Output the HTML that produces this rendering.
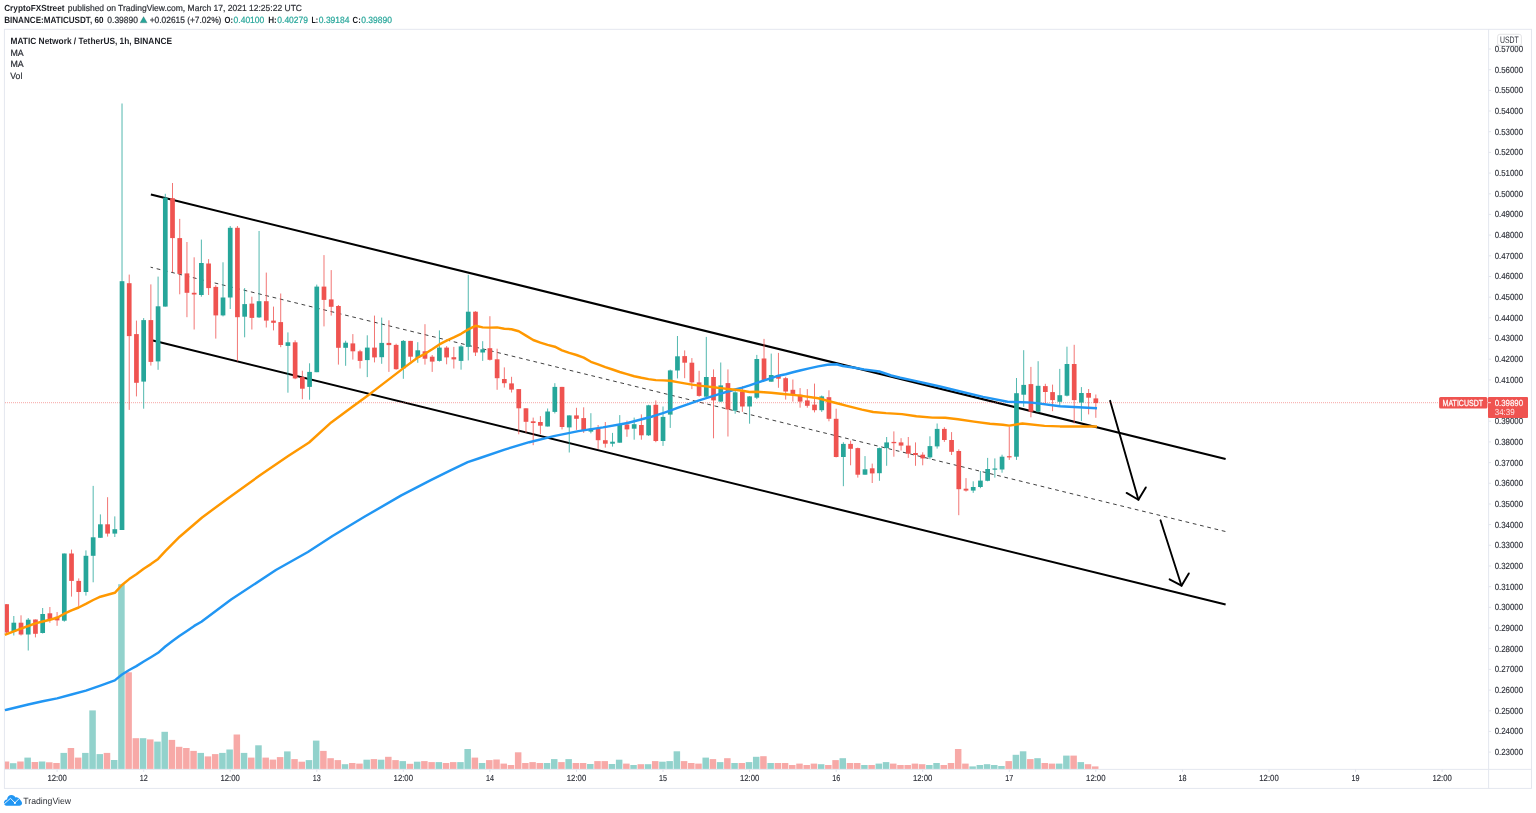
<!DOCTYPE html>
<html lang="en"><head><meta charset="utf-8"><title>MATICUSDT chart</title>
<style>html,body{margin:0;padding:0;background:#fff;}body{width:1536px;height:813px;overflow:hidden;font-family:"Liberation Sans",sans-serif;}svg{display:block;}text{font-family:"Liberation Sans",sans-serif;text-rendering:geometricPrecision;}</style>
</head><body>
<svg width="1536" height="813" viewBox="0 0 1536 813">
<rect width="1536" height="813" fill="#ffffff"/>
<g fill="none" stroke="#e3e6ee" stroke-width="0.95">
<rect x="4.4" y="29.3" width="1527.1" height="759.1"/>
<line x1="1488.6" y1="29.3" x2="1488.6" y2="788.4"/>
<line x1="4.4" y1="769.4" x2="1531.5" y2="769.4"/>
</g>
<g id="volume">
<rect x="4.90" y="761.5" width="4.35" height="7.4" fill="#f7a9a7"/>
<rect x="9.96" y="763.2" width="6.50" height="5.7" fill="#92d2cc"/>
<rect x="17.18" y="761.5" width="6.50" height="7.4" fill="#f7a9a7"/>
<rect x="24.39" y="757.6" width="6.50" height="11.3" fill="#92d2cc"/>
<rect x="31.60" y="762.0" width="6.50" height="6.9" fill="#f7a9a7"/>
<rect x="38.82" y="761.5" width="6.50" height="7.4" fill="#92d2cc"/>
<rect x="46.03" y="762.3" width="6.50" height="6.6" fill="#f7a9a7"/>
<rect x="53.24" y="763.0" width="6.50" height="5.9" fill="#f7a9a7"/>
<rect x="60.46" y="752.9" width="6.50" height="16.0" fill="#92d2cc"/>
<rect x="67.67" y="748.0" width="6.50" height="20.9" fill="#f7a9a7"/>
<rect x="74.88" y="757.6" width="6.50" height="11.3" fill="#f7a9a7"/>
<rect x="82.10" y="752.9" width="6.50" height="16.0" fill="#92d2cc"/>
<rect x="89.31" y="710.4" width="6.50" height="58.5" fill="#92d2cc"/>
<rect x="96.53" y="754.1" width="6.50" height="14.8" fill="#92d2cc"/>
<rect x="103.74" y="752.9" width="6.50" height="16.0" fill="#f7a9a7"/>
<rect x="110.95" y="760.0" width="6.50" height="8.9" fill="#92d2cc"/>
<rect x="118.17" y="584.2" width="6.50" height="184.7" fill="#92d2cc"/>
<rect x="125.38" y="672.3" width="6.50" height="96.6" fill="#f7a9a7"/>
<rect x="132.59" y="738.2" width="6.50" height="30.7" fill="#f7a9a7"/>
<rect x="139.81" y="738.2" width="6.50" height="30.7" fill="#92d2cc"/>
<rect x="147.02" y="739.4" width="6.50" height="29.5" fill="#f7a9a7"/>
<rect x="154.23" y="741.6" width="6.50" height="27.3" fill="#92d2cc"/>
<rect x="161.45" y="731.8" width="6.50" height="37.1" fill="#92d2cc"/>
<rect x="168.66" y="739.9" width="6.50" height="29.0" fill="#f7a9a7"/>
<rect x="175.87" y="746.8" width="6.50" height="22.1" fill="#f7a9a7"/>
<rect x="183.09" y="748.0" width="6.50" height="20.9" fill="#f7a9a7"/>
<rect x="190.30" y="750.9" width="6.50" height="18.0" fill="#f7a9a7"/>
<rect x="197.51" y="752.9" width="6.50" height="16.0" fill="#92d2cc"/>
<rect x="204.73" y="756.4" width="6.50" height="12.5" fill="#f7a9a7"/>
<rect x="211.94" y="754.1" width="6.50" height="14.8" fill="#f7a9a7"/>
<rect x="219.16" y="752.9" width="6.50" height="16.0" fill="#92d2cc"/>
<rect x="226.37" y="749.5" width="6.50" height="19.4" fill="#92d2cc"/>
<rect x="233.58" y="734.5" width="6.50" height="34.4" fill="#f7a9a7"/>
<rect x="240.80" y="752.9" width="6.50" height="16.0" fill="#92d2cc"/>
<rect x="248.01" y="757.6" width="6.50" height="11.3" fill="#f7a9a7"/>
<rect x="255.22" y="745.3" width="6.50" height="23.6" fill="#92d2cc"/>
<rect x="262.44" y="757.6" width="6.50" height="11.3" fill="#f7a9a7"/>
<rect x="269.65" y="759.6" width="6.50" height="9.3" fill="#f7a9a7"/>
<rect x="276.86" y="757.1" width="6.50" height="11.8" fill="#f7a9a7"/>
<rect x="284.08" y="751.4" width="6.50" height="17.5" fill="#92d2cc"/>
<rect x="291.29" y="759.1" width="6.50" height="9.8" fill="#f7a9a7"/>
<rect x="298.50" y="761.7" width="6.50" height="7.2" fill="#f7a9a7"/>
<rect x="305.72" y="760.1" width="6.50" height="8.8" fill="#92d2cc"/>
<rect x="312.93" y="740.6" width="6.50" height="28.3" fill="#92d2cc"/>
<rect x="320.14" y="750.9" width="6.50" height="18.0" fill="#f7a9a7"/>
<rect x="327.36" y="758.2" width="6.50" height="10.7" fill="#f7a9a7"/>
<rect x="334.57" y="760.1" width="6.50" height="8.8" fill="#f7a9a7"/>
<rect x="341.78" y="764.2" width="6.50" height="4.7" fill="#92d2cc"/>
<rect x="349.00" y="763.0" width="6.50" height="5.9" fill="#f7a9a7"/>
<rect x="356.21" y="763.6" width="6.50" height="5.3" fill="#f7a9a7"/>
<rect x="363.43" y="759.7" width="6.50" height="9.2" fill="#92d2cc"/>
<rect x="370.64" y="759.1" width="6.50" height="9.8" fill="#f7a9a7"/>
<rect x="377.85" y="759.7" width="6.50" height="9.2" fill="#92d2cc"/>
<rect x="385.07" y="756.8" width="6.50" height="12.1" fill="#f7a9a7"/>
<rect x="392.28" y="760.1" width="6.50" height="8.8" fill="#f7a9a7"/>
<rect x="399.49" y="761.1" width="6.50" height="7.8" fill="#92d2cc"/>
<rect x="406.71" y="763.8" width="6.50" height="5.1" fill="#f7a9a7"/>
<rect x="413.92" y="761.7" width="6.50" height="7.2" fill="#92d2cc"/>
<rect x="421.13" y="761.1" width="6.50" height="7.8" fill="#f7a9a7"/>
<rect x="428.35" y="762.1" width="6.50" height="6.8" fill="#f7a9a7"/>
<rect x="435.56" y="762.1" width="6.50" height="6.8" fill="#92d2cc"/>
<rect x="442.77" y="763.0" width="6.50" height="5.9" fill="#f7a9a7"/>
<rect x="449.99" y="762.1" width="6.50" height="6.8" fill="#f7a9a7"/>
<rect x="457.20" y="762.1" width="6.50" height="6.8" fill="#92d2cc"/>
<rect x="464.41" y="749.0" width="6.50" height="19.9" fill="#92d2cc"/>
<rect x="471.63" y="757.6" width="6.50" height="11.3" fill="#f7a9a7"/>
<rect x="478.84" y="763.0" width="6.50" height="5.9" fill="#92d2cc"/>
<rect x="486.05" y="760.1" width="6.50" height="8.8" fill="#f7a9a7"/>
<rect x="493.27" y="759.5" width="6.50" height="9.4" fill="#f7a9a7"/>
<rect x="500.48" y="763.6" width="6.50" height="5.3" fill="#f7a9a7"/>
<rect x="507.69" y="765.0" width="6.50" height="3.9" fill="#f7a9a7"/>
<rect x="514.91" y="752.3" width="6.50" height="16.6" fill="#f7a9a7"/>
<rect x="522.12" y="763.0" width="6.50" height="5.9" fill="#f7a9a7"/>
<rect x="529.34" y="762.1" width="6.50" height="6.8" fill="#f7a9a7"/>
<rect x="536.55" y="763.0" width="6.50" height="5.9" fill="#f7a9a7"/>
<rect x="543.76" y="763.0" width="6.50" height="5.9" fill="#92d2cc"/>
<rect x="550.98" y="759.1" width="6.50" height="9.8" fill="#92d2cc"/>
<rect x="558.19" y="762.1" width="6.50" height="6.8" fill="#f7a9a7"/>
<rect x="565.40" y="759.1" width="6.50" height="9.8" fill="#92d2cc"/>
<rect x="572.62" y="763.0" width="6.50" height="5.9" fill="#f7a9a7"/>
<rect x="579.83" y="763.0" width="6.50" height="5.9" fill="#f7a9a7"/>
<rect x="587.04" y="764.0" width="6.50" height="4.9" fill="#92d2cc"/>
<rect x="594.26" y="761.1" width="6.50" height="7.8" fill="#f7a9a7"/>
<rect x="601.47" y="761.1" width="6.50" height="7.8" fill="#f7a9a7"/>
<rect x="608.68" y="764.0" width="6.50" height="4.9" fill="#92d2cc"/>
<rect x="615.90" y="759.7" width="6.50" height="9.2" fill="#92d2cc"/>
<rect x="623.11" y="763.6" width="6.50" height="5.3" fill="#f7a9a7"/>
<rect x="630.32" y="765.0" width="6.50" height="3.9" fill="#92d2cc"/>
<rect x="637.54" y="764.2" width="6.50" height="4.7" fill="#f7a9a7"/>
<rect x="644.75" y="764.2" width="6.50" height="4.7" fill="#92d2cc"/>
<rect x="651.97" y="761.1" width="6.50" height="7.8" fill="#f7a9a7"/>
<rect x="659.18" y="761.7" width="6.50" height="7.2" fill="#92d2cc"/>
<rect x="666.39" y="761.1" width="6.50" height="7.8" fill="#92d2cc"/>
<rect x="673.61" y="751.3" width="6.50" height="17.6" fill="#92d2cc"/>
<rect x="680.82" y="761.1" width="6.50" height="7.8" fill="#f7a9a7"/>
<rect x="688.03" y="763.0" width="6.50" height="5.9" fill="#f7a9a7"/>
<rect x="695.25" y="763.6" width="6.50" height="5.3" fill="#f7a9a7"/>
<rect x="702.46" y="757.6" width="6.50" height="11.3" fill="#92d2cc"/>
<rect x="709.67" y="759.1" width="6.50" height="9.8" fill="#f7a9a7"/>
<rect x="716.89" y="762.1" width="6.50" height="6.8" fill="#92d2cc"/>
<rect x="724.10" y="758.2" width="6.50" height="10.7" fill="#f7a9a7"/>
<rect x="731.31" y="763.0" width="6.50" height="5.9" fill="#92d2cc"/>
<rect x="738.53" y="763.0" width="6.50" height="5.9" fill="#f7a9a7"/>
<rect x="745.74" y="762.1" width="6.50" height="6.8" fill="#92d2cc"/>
<rect x="752.95" y="756.8" width="6.50" height="12.1" fill="#92d2cc"/>
<rect x="760.17" y="756.2" width="6.50" height="12.7" fill="#f7a9a7"/>
<rect x="767.38" y="763.0" width="6.50" height="5.9" fill="#92d2cc"/>
<rect x="774.59" y="763.0" width="6.50" height="5.9" fill="#f7a9a7"/>
<rect x="781.81" y="763.0" width="6.50" height="5.9" fill="#f7a9a7"/>
<rect x="789.02" y="765.0" width="6.50" height="3.9" fill="#f7a9a7"/>
<rect x="796.24" y="763.6" width="6.50" height="5.3" fill="#f7a9a7"/>
<rect x="803.45" y="765.0" width="6.50" height="3.9" fill="#f7a9a7"/>
<rect x="810.66" y="763.6" width="6.50" height="5.3" fill="#f7a9a7"/>
<rect x="817.88" y="764.2" width="6.50" height="4.7" fill="#92d2cc"/>
<rect x="825.09" y="765.0" width="6.50" height="3.9" fill="#f7a9a7"/>
<rect x="832.30" y="760.1" width="6.50" height="8.8" fill="#f7a9a7"/>
<rect x="839.52" y="758.2" width="6.50" height="10.7" fill="#92d2cc"/>
<rect x="846.73" y="763.0" width="6.50" height="5.9" fill="#f7a9a7"/>
<rect x="853.94" y="763.0" width="6.50" height="5.9" fill="#f7a9a7"/>
<rect x="861.16" y="765.0" width="6.50" height="3.9" fill="#92d2cc"/>
<rect x="868.37" y="765.0" width="6.50" height="3.9" fill="#f7a9a7"/>
<rect x="875.58" y="763.6" width="6.50" height="5.3" fill="#92d2cc"/>
<rect x="882.80" y="762.1" width="6.50" height="6.8" fill="#92d2cc"/>
<rect x="890.01" y="763.6" width="6.50" height="5.3" fill="#f7a9a7"/>
<rect x="897.22" y="765.0" width="6.50" height="3.9" fill="#f7a9a7"/>
<rect x="904.44" y="765.0" width="6.50" height="3.9" fill="#f7a9a7"/>
<rect x="911.65" y="763.6" width="6.50" height="5.3" fill="#f7a9a7"/>
<rect x="918.86" y="764.2" width="6.50" height="4.7" fill="#f7a9a7"/>
<rect x="926.08" y="765.0" width="6.50" height="3.9" fill="#92d2cc"/>
<rect x="933.29" y="763.0" width="6.50" height="5.9" fill="#92d2cc"/>
<rect x="940.50" y="765.0" width="6.50" height="3.9" fill="#f7a9a7"/>
<rect x="947.72" y="763.0" width="6.50" height="5.9" fill="#f7a9a7"/>
<rect x="954.93" y="749.0" width="6.50" height="19.9" fill="#f7a9a7"/>
<rect x="962.15" y="763.6" width="6.50" height="5.3" fill="#f7a9a7"/>
<rect x="969.36" y="766.4" width="6.50" height="2.5" fill="#92d2cc"/>
<rect x="976.57" y="765.0" width="6.50" height="3.9" fill="#92d2cc"/>
<rect x="983.79" y="764.2" width="6.50" height="4.7" fill="#92d2cc"/>
<rect x="991.00" y="765.0" width="6.50" height="3.9" fill="#92d2cc"/>
<rect x="998.21" y="766.0" width="6.50" height="2.9" fill="#92d2cc"/>
<rect x="1005.43" y="761.1" width="6.50" height="7.8" fill="#f7a9a7"/>
<rect x="1012.64" y="754.8" width="6.50" height="14.1" fill="#92d2cc"/>
<rect x="1019.85" y="751.3" width="6.50" height="17.6" fill="#92d2cc"/>
<rect x="1027.07" y="759.1" width="6.50" height="9.8" fill="#f7a9a7"/>
<rect x="1034.28" y="758.2" width="6.50" height="10.7" fill="#92d2cc"/>
<rect x="1041.49" y="763.0" width="6.50" height="5.9" fill="#f7a9a7"/>
<rect x="1048.71" y="763.6" width="6.50" height="5.3" fill="#f7a9a7"/>
<rect x="1055.92" y="763.6" width="6.50" height="5.3" fill="#92d2cc"/>
<rect x="1063.13" y="755.6" width="6.50" height="13.3" fill="#92d2cc"/>
<rect x="1070.35" y="755.6" width="6.50" height="13.3" fill="#f7a9a7"/>
<rect x="1077.56" y="762.1" width="6.50" height="6.8" fill="#92d2cc"/>
<rect x="1084.77" y="764.2" width="6.50" height="4.7" fill="#f7a9a7"/>
<rect x="1091.99" y="766.4" width="6.50" height="2.5" fill="#f7a9a7"/>
</g>
<g stroke="#000" fill="none">
<line x1="150.9" y1="194.6" x2="1225.6" y2="458.9" stroke-width="2.08"/>
<line x1="152.9" y1="340.6" x2="1225.6" y2="604.6" stroke-width="2.08"/>
<line x1="150.6" y1="267.2" x2="1225.4" y2="531.5" stroke="#404040" stroke-width="1.0" stroke-dasharray="3.73 3.7315" stroke-dashoffset="1.22"/>
<g stroke-width="1.9" stroke-linecap="round" stroke-linejoin="round">
<path d="M1110.1,400.8 L1138.4,499.7"/>
<path d="M1126.6,492.9 L1138.4,499.7 L1145.8,487.4"/>
<path d="M1160.5,520.3 L1181.5,585.7"/>
<path d="M1169.6,579.3 L1181.5,585.7 L1188.8,573.4"/>
</g></g>
<line x1="5" y1="402.7" x2="1488.6" y2="402.7" stroke="#ef5350" stroke-opacity="0.58" stroke-width="0.9" stroke-dasharray="1 1"/>
<g id="candles">
<line x1="6.60" y1="604.2" x2="6.60" y2="634.0" stroke="#ef5350" stroke-width="0.8"/>
<rect x="4.90" y="604.2" width="4.05" height="28.3" fill="#ef5350"/>
<line x1="13.81" y1="616.0" x2="13.81" y2="635.5" stroke="#26a69a" stroke-width="0.8"/>
<rect x="11.46" y="622.7" width="4.70" height="9.3" fill="#26a69a"/>
<line x1="21.03" y1="615.3" x2="21.03" y2="635.5" stroke="#ef5350" stroke-width="0.8"/>
<rect x="18.68" y="622.7" width="4.70" height="11.8" fill="#ef5350"/>
<line x1="28.24" y1="618.0" x2="28.24" y2="650.5" stroke="#26a69a" stroke-width="0.8"/>
<rect x="25.89" y="619.7" width="4.70" height="14.8" fill="#26a69a"/>
<line x1="35.45" y1="619.5" x2="35.45" y2="637.4" stroke="#ef5350" stroke-width="0.8"/>
<rect x="33.10" y="619.5" width="4.70" height="14.3" fill="#ef5350"/>
<line x1="42.67" y1="608.0" x2="42.67" y2="633.5" stroke="#26a69a" stroke-width="0.8"/>
<rect x="40.32" y="614.0" width="4.70" height="19.0" fill="#26a69a"/>
<line x1="49.88" y1="607.0" x2="49.88" y2="622.7" stroke="#ef5350" stroke-width="0.8"/>
<rect x="47.53" y="613.3" width="4.70" height="5.7" fill="#ef5350"/>
<line x1="57.09" y1="612.0" x2="57.09" y2="625.8" stroke="#ef5350" stroke-width="0.8"/>
<rect x="54.74" y="616.8" width="4.70" height="3.6" fill="#ef5350"/>
<line x1="64.31" y1="553.5" x2="64.31" y2="621.7" stroke="#26a69a" stroke-width="0.8"/>
<rect x="61.96" y="553.5" width="4.70" height="67.2" fill="#26a69a"/>
<line x1="71.52" y1="549.6" x2="71.52" y2="596.6" stroke="#ef5350" stroke-width="0.8"/>
<rect x="69.17" y="553.5" width="4.70" height="27.4" fill="#ef5350"/>
<line x1="78.73" y1="578.4" x2="78.73" y2="606.7" stroke="#ef5350" stroke-width="0.8"/>
<rect x="76.38" y="580.9" width="4.70" height="11.1" fill="#ef5350"/>
<line x1="85.95" y1="550.4" x2="85.95" y2="595.6" stroke="#26a69a" stroke-width="0.8"/>
<rect x="83.60" y="555.8" width="4.70" height="36.2" fill="#26a69a"/>
<line x1="93.16" y1="485.9" x2="93.16" y2="582.3" stroke="#26a69a" stroke-width="0.8"/>
<rect x="90.81" y="537.3" width="4.70" height="18.5" fill="#26a69a"/>
<line x1="100.38" y1="514.4" x2="100.38" y2="537.8" stroke="#26a69a" stroke-width="0.8"/>
<rect x="98.03" y="524.3" width="4.70" height="13.5" fill="#26a69a"/>
<line x1="107.59" y1="497.2" x2="107.59" y2="536.6" stroke="#ef5350" stroke-width="0.8"/>
<rect x="105.24" y="524.3" width="4.70" height="9.3" fill="#ef5350"/>
<line x1="114.80" y1="516.4" x2="114.80" y2="537.0" stroke="#26a69a" stroke-width="0.8"/>
<rect x="112.45" y="529.2" width="4.70" height="4.4" fill="#26a69a"/>
<line x1="122.02" y1="103.5" x2="122.02" y2="530.0" stroke="#26a69a" stroke-width="0.8"/>
<rect x="119.67" y="281.2" width="4.70" height="248.8" fill="#26a69a"/>
<line x1="129.23" y1="274.6" x2="129.23" y2="409.9" stroke="#ef5350" stroke-width="0.8"/>
<rect x="126.88" y="283.2" width="4.70" height="52.9" fill="#ef5350"/>
<line x1="136.44" y1="320.6" x2="136.44" y2="396.4" stroke="#ef5350" stroke-width="0.8"/>
<rect x="134.09" y="334.1" width="4.70" height="48.7" fill="#ef5350"/>
<line x1="143.66" y1="318.1" x2="143.66" y2="408.7" stroke="#26a69a" stroke-width="0.8"/>
<rect x="141.31" y="320.1" width="4.70" height="61.5" fill="#26a69a"/>
<line x1="150.87" y1="284.4" x2="150.87" y2="365.6" stroke="#ef5350" stroke-width="0.8"/>
<rect x="148.52" y="320.1" width="4.70" height="41.8" fill="#ef5350"/>
<line x1="158.08" y1="276.6" x2="158.08" y2="369.8" stroke="#26a69a" stroke-width="0.8"/>
<rect x="155.73" y="306.3" width="4.70" height="55.1" fill="#26a69a"/>
<line x1="165.30" y1="193.8" x2="165.30" y2="306.6" stroke="#26a69a" stroke-width="0.8"/>
<rect x="162.95" y="197.7" width="4.70" height="108.9" fill="#26a69a"/>
<line x1="172.51" y1="183.0" x2="172.51" y2="272.1" stroke="#ef5350" stroke-width="0.8"/>
<rect x="170.16" y="198.2" width="4.70" height="39.9" fill="#ef5350"/>
<line x1="179.72" y1="218.9" x2="179.72" y2="294.3" stroke="#ef5350" stroke-width="0.8"/>
<rect x="177.37" y="238.1" width="4.70" height="35.8" fill="#ef5350"/>
<line x1="186.94" y1="242.0" x2="186.94" y2="317.2" stroke="#ef5350" stroke-width="0.8"/>
<rect x="184.59" y="273.4" width="4.70" height="19.4" fill="#ef5350"/>
<line x1="194.15" y1="257.3" x2="194.15" y2="329.5" stroke="#ef5350" stroke-width="0.8"/>
<rect x="191.80" y="292.8" width="4.70" height="1.7" fill="#ef5350"/>
<line x1="201.36" y1="239.6" x2="201.36" y2="296.7" stroke="#26a69a" stroke-width="0.8"/>
<rect x="199.01" y="263.0" width="4.70" height="32.0" fill="#26a69a"/>
<line x1="208.58" y1="259.1" x2="208.58" y2="295.0" stroke="#ef5350" stroke-width="0.8"/>
<rect x="206.23" y="263.5" width="4.70" height="24.6" fill="#ef5350"/>
<line x1="215.79" y1="285.2" x2="215.79" y2="338.6" stroke="#ef5350" stroke-width="0.8"/>
<rect x="213.44" y="286.9" width="4.70" height="28.5" fill="#ef5350"/>
<line x1="223.00" y1="262.3" x2="223.00" y2="316.4" stroke="#26a69a" stroke-width="0.8"/>
<rect x="220.66" y="297.5" width="4.70" height="17.9" fill="#26a69a"/>
<line x1="230.22" y1="226.0" x2="230.22" y2="309.0" stroke="#26a69a" stroke-width="0.8"/>
<rect x="227.87" y="227.8" width="4.70" height="69.7" fill="#26a69a"/>
<line x1="237.43" y1="226.0" x2="237.43" y2="361.4" stroke="#ef5350" stroke-width="0.8"/>
<rect x="235.08" y="227.8" width="4.70" height="89.4" fill="#ef5350"/>
<line x1="244.65" y1="288.1" x2="244.65" y2="337.3" stroke="#26a69a" stroke-width="0.8"/>
<rect x="242.30" y="304.1" width="4.70" height="12.6" fill="#26a69a"/>
<line x1="251.86" y1="296.7" x2="251.86" y2="329.5" stroke="#ef5350" stroke-width="0.8"/>
<rect x="249.51" y="303.6" width="4.70" height="14.3" fill="#ef5350"/>
<line x1="259.07" y1="231.0" x2="259.07" y2="317.9" stroke="#26a69a" stroke-width="0.8"/>
<rect x="256.72" y="301.2" width="4.70" height="16.2" fill="#26a69a"/>
<line x1="266.29" y1="272.6" x2="266.29" y2="327.5" stroke="#ef5350" stroke-width="0.8"/>
<rect x="263.94" y="301.2" width="4.70" height="19.4" fill="#ef5350"/>
<line x1="273.50" y1="306.6" x2="273.50" y2="330.4" stroke="#ef5350" stroke-width="0.8"/>
<rect x="271.15" y="320.6" width="4.70" height="2.2" fill="#ef5350"/>
<line x1="280.71" y1="293.5" x2="280.71" y2="347.2" stroke="#ef5350" stroke-width="0.8"/>
<rect x="278.36" y="322.1" width="4.70" height="22.9" fill="#ef5350"/>
<line x1="287.93" y1="332.4" x2="287.93" y2="392.7" stroke="#26a69a" stroke-width="0.8"/>
<rect x="285.58" y="342.3" width="4.70" height="3.6" fill="#26a69a"/>
<line x1="295.14" y1="340.3" x2="295.14" y2="379.2" stroke="#ef5350" stroke-width="0.8"/>
<rect x="292.79" y="342.3" width="4.70" height="36.1" fill="#ef5350"/>
<line x1="302.35" y1="370.7" x2="302.35" y2="399.2" stroke="#ef5350" stroke-width="0.8"/>
<rect x="300.00" y="377.1" width="4.70" height="11.6" fill="#ef5350"/>
<line x1="309.57" y1="363.3" x2="309.57" y2="399.7" stroke="#26a69a" stroke-width="0.8"/>
<rect x="307.22" y="371.9" width="4.70" height="15.0" fill="#26a69a"/>
<line x1="316.78" y1="284.6" x2="316.78" y2="372.2" stroke="#26a69a" stroke-width="0.8"/>
<rect x="314.43" y="286.6" width="4.70" height="85.6" fill="#26a69a"/>
<line x1="323.99" y1="255.1" x2="323.99" y2="326.4" stroke="#ef5350" stroke-width="0.8"/>
<rect x="321.64" y="286.6" width="4.70" height="13.3" fill="#ef5350"/>
<line x1="331.21" y1="270.1" x2="331.21" y2="315.6" stroke="#ef5350" stroke-width="0.8"/>
<rect x="328.86" y="299.4" width="4.70" height="7.4" fill="#ef5350"/>
<line x1="338.42" y1="305.0" x2="338.42" y2="364.6" stroke="#ef5350" stroke-width="0.8"/>
<rect x="336.07" y="306.0" width="4.70" height="41.8" fill="#ef5350"/>
<line x1="345.63" y1="340.7" x2="345.63" y2="365.8" stroke="#26a69a" stroke-width="0.8"/>
<rect x="343.28" y="342.7" width="4.70" height="5.1" fill="#26a69a"/>
<line x1="352.85" y1="334.1" x2="352.85" y2="359.6" stroke="#ef5350" stroke-width="0.8"/>
<rect x="350.50" y="343.4" width="4.70" height="7.9" fill="#ef5350"/>
<line x1="360.06" y1="349.8" x2="360.06" y2="368.5" stroke="#ef5350" stroke-width="0.8"/>
<rect x="357.71" y="351.3" width="4.70" height="9.6" fill="#ef5350"/>
<line x1="367.28" y1="335.3" x2="367.28" y2="377.1" stroke="#26a69a" stroke-width="0.8"/>
<rect x="364.93" y="347.6" width="4.70" height="12.5" fill="#26a69a"/>
<line x1="374.49" y1="315.6" x2="374.49" y2="362.4" stroke="#ef5350" stroke-width="0.8"/>
<rect x="372.14" y="347.6" width="4.70" height="9.8" fill="#ef5350"/>
<line x1="381.70" y1="317.6" x2="381.70" y2="363.8" stroke="#26a69a" stroke-width="0.8"/>
<rect x="379.35" y="342.9" width="4.70" height="14.3" fill="#26a69a"/>
<line x1="388.92" y1="320.3" x2="388.92" y2="371.9" stroke="#ef5350" stroke-width="0.8"/>
<rect x="386.57" y="342.9" width="4.70" height="2.2" fill="#ef5350"/>
<line x1="396.13" y1="343.7" x2="396.13" y2="369.7" stroke="#ef5350" stroke-width="0.8"/>
<rect x="393.78" y="344.9" width="4.70" height="24.3" fill="#ef5350"/>
<line x1="403.34" y1="340.0" x2="403.34" y2="378.8" stroke="#26a69a" stroke-width="0.8"/>
<rect x="400.99" y="340.9" width="4.70" height="27.4" fill="#26a69a"/>
<line x1="410.56" y1="340.9" x2="410.56" y2="361.6" stroke="#ef5350" stroke-width="0.8"/>
<rect x="408.21" y="340.9" width="4.70" height="15.8" fill="#ef5350"/>
<line x1="417.77" y1="342.2" x2="417.77" y2="362.8" stroke="#26a69a" stroke-width="0.8"/>
<rect x="415.42" y="350.3" width="4.70" height="7.6" fill="#26a69a"/>
<line x1="424.98" y1="324.2" x2="424.98" y2="364.6" stroke="#ef5350" stroke-width="0.8"/>
<rect x="422.63" y="351.3" width="4.70" height="7.4" fill="#ef5350"/>
<line x1="432.20" y1="355.0" x2="432.20" y2="371.9" stroke="#ef5350" stroke-width="0.8"/>
<rect x="429.85" y="356.7" width="4.70" height="4.9" fill="#ef5350"/>
<line x1="439.41" y1="330.4" x2="439.41" y2="361.6" stroke="#26a69a" stroke-width="0.8"/>
<rect x="437.06" y="347.6" width="4.70" height="13.3" fill="#26a69a"/>
<line x1="446.62" y1="346.1" x2="446.62" y2="364.3" stroke="#ef5350" stroke-width="0.8"/>
<rect x="444.27" y="347.6" width="4.70" height="9.8" fill="#ef5350"/>
<line x1="453.84" y1="346.9" x2="453.84" y2="368.5" stroke="#ef5350" stroke-width="0.8"/>
<rect x="451.49" y="357.2" width="4.70" height="2.2" fill="#ef5350"/>
<line x1="461.05" y1="345.1" x2="461.05" y2="369.7" stroke="#26a69a" stroke-width="0.8"/>
<rect x="458.70" y="346.4" width="4.70" height="14.5" fill="#26a69a"/>
<line x1="468.26" y1="274.8" x2="468.26" y2="360.4" stroke="#26a69a" stroke-width="0.8"/>
<rect x="465.91" y="311.7" width="4.70" height="35.2" fill="#26a69a"/>
<line x1="475.48" y1="311.2" x2="475.48" y2="356.0" stroke="#ef5350" stroke-width="0.8"/>
<rect x="473.13" y="311.7" width="4.70" height="40.8" fill="#ef5350"/>
<line x1="482.69" y1="341.2" x2="482.69" y2="360.9" stroke="#26a69a" stroke-width="0.8"/>
<rect x="480.34" y="349.3" width="4.70" height="3.2" fill="#26a69a"/>
<line x1="489.90" y1="316.2" x2="489.90" y2="360.5" stroke="#ef5350" stroke-width="0.8"/>
<rect x="487.55" y="348.2" width="4.70" height="11.6" fill="#ef5350"/>
<line x1="497.12" y1="348.7" x2="497.12" y2="389.8" stroke="#ef5350" stroke-width="0.8"/>
<rect x="494.77" y="359.3" width="4.70" height="18.9" fill="#ef5350"/>
<line x1="504.33" y1="367.4" x2="504.33" y2="387.6" stroke="#ef5350" stroke-width="0.8"/>
<rect x="501.98" y="379.0" width="4.70" height="4.2" fill="#ef5350"/>
<line x1="511.55" y1="376.8" x2="511.55" y2="392.5" stroke="#ef5350" stroke-width="0.8"/>
<rect x="509.19" y="383.4" width="4.70" height="6.2" fill="#ef5350"/>
<line x1="518.76" y1="389.1" x2="518.76" y2="434.3" stroke="#ef5350" stroke-width="0.8"/>
<rect x="516.41" y="389.1" width="4.70" height="19.2" fill="#ef5350"/>
<line x1="525.97" y1="408.3" x2="525.97" y2="432.9" stroke="#ef5350" stroke-width="0.8"/>
<rect x="523.62" y="408.3" width="4.70" height="13.5" fill="#ef5350"/>
<line x1="533.19" y1="417.6" x2="533.19" y2="445.2" stroke="#ef5350" stroke-width="0.8"/>
<rect x="530.84" y="421.3" width="4.70" height="1.7" fill="#ef5350"/>
<line x1="540.40" y1="416.1" x2="540.40" y2="434.3" stroke="#ef5350" stroke-width="0.8"/>
<rect x="538.05" y="422.0" width="4.70" height="3.7" fill="#ef5350"/>
<line x1="547.61" y1="408.5" x2="547.61" y2="426.5" stroke="#26a69a" stroke-width="0.8"/>
<rect x="545.26" y="411.5" width="4.70" height="15.0" fill="#26a69a"/>
<line x1="554.83" y1="383.2" x2="554.83" y2="413.4" stroke="#26a69a" stroke-width="0.8"/>
<rect x="552.48" y="386.9" width="4.70" height="25.0" fill="#26a69a"/>
<line x1="562.04" y1="386.9" x2="562.04" y2="429.4" stroke="#ef5350" stroke-width="0.8"/>
<rect x="559.69" y="386.9" width="4.70" height="40.1" fill="#ef5350"/>
<line x1="569.25" y1="415.4" x2="569.25" y2="452.5" stroke="#26a69a" stroke-width="0.8"/>
<rect x="566.90" y="415.4" width="4.70" height="12.0" fill="#26a69a"/>
<line x1="576.47" y1="407.8" x2="576.47" y2="429.9" stroke="#ef5350" stroke-width="0.8"/>
<rect x="574.12" y="415.4" width="4.70" height="3.4" fill="#ef5350"/>
<line x1="583.68" y1="407.3" x2="583.68" y2="432.9" stroke="#ef5350" stroke-width="0.8"/>
<rect x="581.33" y="418.1" width="4.70" height="12.3" fill="#ef5350"/>
<line x1="590.89" y1="413.2" x2="590.89" y2="433.3" stroke="#26a69a" stroke-width="0.8"/>
<rect x="588.54" y="428.7" width="4.70" height="2.9" fill="#26a69a"/>
<line x1="598.11" y1="425.0" x2="598.11" y2="449.1" stroke="#ef5350" stroke-width="0.8"/>
<rect x="595.76" y="428.7" width="4.70" height="11.5" fill="#ef5350"/>
<line x1="605.32" y1="422.0" x2="605.32" y2="447.6" stroke="#ef5350" stroke-width="0.8"/>
<rect x="602.97" y="440.2" width="4.70" height="3.5" fill="#ef5350"/>
<line x1="612.53" y1="432.9" x2="612.53" y2="446.6" stroke="#26a69a" stroke-width="0.8"/>
<rect x="610.18" y="441.7" width="4.70" height="2.0" fill="#26a69a"/>
<line x1="619.75" y1="415.1" x2="619.75" y2="442.7" stroke="#26a69a" stroke-width="0.8"/>
<rect x="617.40" y="424.5" width="4.70" height="18.2" fill="#26a69a"/>
<line x1="626.96" y1="420.6" x2="626.96" y2="436.8" stroke="#ef5350" stroke-width="0.8"/>
<rect x="624.61" y="424.5" width="4.70" height="4.9" fill="#ef5350"/>
<line x1="634.17" y1="417.6" x2="634.17" y2="439.7" stroke="#26a69a" stroke-width="0.8"/>
<rect x="631.82" y="424.2" width="4.70" height="4.5" fill="#26a69a"/>
<line x1="641.39" y1="414.4" x2="641.39" y2="439.7" stroke="#ef5350" stroke-width="0.8"/>
<rect x="639.04" y="425.0" width="4.70" height="10.3" fill="#ef5350"/>
<line x1="648.60" y1="404.8" x2="648.60" y2="436.0" stroke="#26a69a" stroke-width="0.8"/>
<rect x="646.25" y="405.3" width="4.70" height="30.0" fill="#26a69a"/>
<line x1="655.82" y1="400.4" x2="655.82" y2="442.2" stroke="#ef5350" stroke-width="0.8"/>
<rect x="653.47" y="404.8" width="4.70" height="36.2" fill="#ef5350"/>
<line x1="663.03" y1="406.5" x2="663.03" y2="445.9" stroke="#26a69a" stroke-width="0.8"/>
<rect x="660.68" y="416.9" width="4.70" height="24.1" fill="#26a69a"/>
<line x1="670.24" y1="369.6" x2="670.24" y2="427.9" stroke="#26a69a" stroke-width="0.8"/>
<rect x="667.89" y="370.4" width="4.70" height="44.2" fill="#26a69a"/>
<line x1="677.46" y1="336.0" x2="677.46" y2="378.4" stroke="#26a69a" stroke-width="0.8"/>
<rect x="675.11" y="356.3" width="4.70" height="14.2" fill="#26a69a"/>
<line x1="684.67" y1="350.4" x2="684.67" y2="378.2" stroke="#ef5350" stroke-width="0.8"/>
<rect x="682.32" y="356.1" width="4.70" height="6.6" fill="#ef5350"/>
<line x1="691.88" y1="358.1" x2="691.88" y2="389.1" stroke="#ef5350" stroke-width="0.8"/>
<rect x="689.53" y="362.7" width="4.70" height="19.7" fill="#ef5350"/>
<line x1="699.10" y1="370.8" x2="699.10" y2="396.7" stroke="#ef5350" stroke-width="0.8"/>
<rect x="696.75" y="382.4" width="4.70" height="13.5" fill="#ef5350"/>
<line x1="706.31" y1="336.9" x2="706.31" y2="397.0" stroke="#26a69a" stroke-width="0.8"/>
<rect x="703.96" y="377.0" width="4.70" height="19.7" fill="#26a69a"/>
<line x1="713.52" y1="369.4" x2="713.52" y2="438.3" stroke="#ef5350" stroke-width="0.8"/>
<rect x="711.17" y="377.0" width="4.70" height="23.4" fill="#ef5350"/>
<line x1="720.74" y1="362.5" x2="720.74" y2="402.1" stroke="#26a69a" stroke-width="0.8"/>
<rect x="718.39" y="385.4" width="4.70" height="16.2" fill="#26a69a"/>
<line x1="727.95" y1="369.4" x2="727.95" y2="436.5" stroke="#ef5350" stroke-width="0.8"/>
<rect x="725.60" y="383.1" width="4.70" height="26.4" fill="#ef5350"/>
<line x1="735.16" y1="390.5" x2="735.16" y2="413.7" stroke="#26a69a" stroke-width="0.8"/>
<rect x="732.81" y="392.3" width="4.70" height="18.4" fill="#26a69a"/>
<line x1="742.38" y1="386.1" x2="742.38" y2="411.9" stroke="#ef5350" stroke-width="0.8"/>
<rect x="740.03" y="391.5" width="4.70" height="15.0" fill="#ef5350"/>
<line x1="749.59" y1="396.0" x2="749.59" y2="423.7" stroke="#26a69a" stroke-width="0.8"/>
<rect x="747.24" y="396.4" width="4.70" height="10.1" fill="#26a69a"/>
<line x1="756.80" y1="354.9" x2="756.80" y2="399.1" stroke="#26a69a" stroke-width="0.8"/>
<rect x="754.45" y="359.0" width="4.70" height="38.7" fill="#26a69a"/>
<line x1="764.02" y1="338.9" x2="764.02" y2="380.0" stroke="#ef5350" stroke-width="0.8"/>
<rect x="761.67" y="358.5" width="4.70" height="21.5" fill="#ef5350"/>
<line x1="771.23" y1="353.6" x2="771.23" y2="381.7" stroke="#26a69a" stroke-width="0.8"/>
<rect x="768.88" y="375.0" width="4.70" height="6.7" fill="#26a69a"/>
<line x1="778.44" y1="352.9" x2="778.44" y2="387.8" stroke="#ef5350" stroke-width="0.8"/>
<rect x="776.09" y="375.0" width="4.70" height="3.7" fill="#ef5350"/>
<line x1="785.66" y1="376.8" x2="785.66" y2="399.6" stroke="#ef5350" stroke-width="0.8"/>
<rect x="783.31" y="378.2" width="4.70" height="13.3" fill="#ef5350"/>
<line x1="792.87" y1="379.5" x2="792.87" y2="401.6" stroke="#ef5350" stroke-width="0.8"/>
<rect x="790.52" y="389.8" width="4.70" height="4.9" fill="#ef5350"/>
<line x1="800.09" y1="388.1" x2="800.09" y2="407.7" stroke="#ef5350" stroke-width="0.8"/>
<rect x="797.74" y="394.7" width="4.70" height="6.9" fill="#ef5350"/>
<line x1="807.30" y1="389.1" x2="807.30" y2="407.7" stroke="#ef5350" stroke-width="0.8"/>
<rect x="804.95" y="400.4" width="4.70" height="5.4" fill="#ef5350"/>
<line x1="814.51" y1="383.6" x2="814.51" y2="412.4" stroke="#ef5350" stroke-width="0.8"/>
<rect x="812.16" y="404.6" width="4.70" height="5.6" fill="#ef5350"/>
<line x1="821.73" y1="395.5" x2="821.73" y2="411.9" stroke="#26a69a" stroke-width="0.8"/>
<rect x="819.38" y="396.4" width="4.70" height="13.8" fill="#26a69a"/>
<line x1="828.94" y1="390.3" x2="828.94" y2="421.3" stroke="#ef5350" stroke-width="0.8"/>
<rect x="826.59" y="397.2" width="4.70" height="21.6" fill="#ef5350"/>
<line x1="836.15" y1="408.7" x2="836.15" y2="457.4" stroke="#ef5350" stroke-width="0.8"/>
<rect x="833.80" y="418.8" width="4.70" height="38.2" fill="#ef5350"/>
<line x1="843.37" y1="442.2" x2="843.37" y2="486.2" stroke="#26a69a" stroke-width="0.8"/>
<rect x="841.02" y="443.9" width="4.70" height="13.1" fill="#26a69a"/>
<line x1="850.58" y1="440.7" x2="850.58" y2="465.3" stroke="#ef5350" stroke-width="0.8"/>
<rect x="848.23" y="443.9" width="4.70" height="4.9" fill="#ef5350"/>
<line x1="857.79" y1="447.6" x2="857.79" y2="477.6" stroke="#ef5350" stroke-width="0.8"/>
<rect x="855.44" y="448.1" width="4.70" height="26.6" fill="#ef5350"/>
<line x1="865.01" y1="456.1" x2="865.01" y2="474.7" stroke="#26a69a" stroke-width="0.8"/>
<rect x="862.66" y="469.3" width="4.70" height="5.4" fill="#26a69a"/>
<line x1="872.22" y1="463.6" x2="872.22" y2="483.0" stroke="#ef5350" stroke-width="0.8"/>
<rect x="869.87" y="468.3" width="4.70" height="5.1" fill="#ef5350"/>
<line x1="879.43" y1="447.6" x2="879.43" y2="480.8" stroke="#26a69a" stroke-width="0.8"/>
<rect x="877.08" y="448.1" width="4.70" height="25.1" fill="#26a69a"/>
<line x1="886.65" y1="437.0" x2="886.65" y2="465.8" stroke="#26a69a" stroke-width="0.8"/>
<rect x="884.30" y="442.4" width="4.70" height="5.7" fill="#26a69a"/>
<line x1="893.86" y1="431.4" x2="893.86" y2="456.7" stroke="#ef5350" stroke-width="0.8"/>
<rect x="891.51" y="441.9" width="4.70" height="1.3" fill="#ef5350"/>
<line x1="901.07" y1="438.2" x2="901.07" y2="450.5" stroke="#ef5350" stroke-width="0.8"/>
<rect x="898.72" y="442.4" width="4.70" height="3.2" fill="#ef5350"/>
<line x1="908.29" y1="437.0" x2="908.29" y2="457.9" stroke="#ef5350" stroke-width="0.8"/>
<rect x="905.94" y="445.6" width="4.70" height="8.1" fill="#ef5350"/>
<line x1="915.50" y1="442.4" x2="915.50" y2="465.8" stroke="#ef5350" stroke-width="0.8"/>
<rect x="913.15" y="453.0" width="4.70" height="2.0" fill="#ef5350"/>
<line x1="922.71" y1="452.3" x2="922.71" y2="465.3" stroke="#ef5350" stroke-width="0.8"/>
<rect x="920.36" y="454.7" width="4.70" height="3.7" fill="#ef5350"/>
<line x1="929.93" y1="436.3" x2="929.93" y2="459.2" stroke="#26a69a" stroke-width="0.8"/>
<rect x="927.58" y="446.1" width="4.70" height="11.3" fill="#26a69a"/>
<line x1="937.14" y1="423.5" x2="937.14" y2="448.6" stroke="#26a69a" stroke-width="0.8"/>
<rect x="934.79" y="428.9" width="4.70" height="17.5" fill="#26a69a"/>
<line x1="944.36" y1="427.2" x2="944.36" y2="441.9" stroke="#ef5350" stroke-width="0.8"/>
<rect x="942.00" y="428.9" width="4.70" height="11.1" fill="#ef5350"/>
<line x1="951.57" y1="432.1" x2="951.57" y2="455.0" stroke="#ef5350" stroke-width="0.8"/>
<rect x="949.22" y="440.0" width="4.70" height="11.8" fill="#ef5350"/>
<line x1="958.78" y1="449.3" x2="958.78" y2="515.2" stroke="#ef5350" stroke-width="0.8"/>
<rect x="956.43" y="451.0" width="4.70" height="38.2" fill="#ef5350"/>
<line x1="966.00" y1="478.1" x2="966.00" y2="491.6" stroke="#ef5350" stroke-width="0.8"/>
<rect x="963.65" y="488.7" width="4.70" height="1.9" fill="#ef5350"/>
<line x1="973.21" y1="481.3" x2="973.21" y2="492.9" stroke="#26a69a" stroke-width="0.8"/>
<rect x="970.86" y="487.0" width="4.70" height="3.6" fill="#26a69a"/>
<line x1="980.42" y1="471.0" x2="980.42" y2="488.2" stroke="#26a69a" stroke-width="0.8"/>
<rect x="978.07" y="480.6" width="4.70" height="6.4" fill="#26a69a"/>
<line x1="987.64" y1="457.9" x2="987.64" y2="481.3" stroke="#26a69a" stroke-width="0.8"/>
<rect x="985.29" y="469.0" width="4.70" height="11.8" fill="#26a69a"/>
<line x1="994.85" y1="458.4" x2="994.85" y2="477.6" stroke="#26a69a" stroke-width="0.8"/>
<rect x="992.50" y="468.5" width="4.70" height="1.2" fill="#26a69a"/>
<line x1="1002.06" y1="454.7" x2="1002.06" y2="472.7" stroke="#26a69a" stroke-width="0.8"/>
<rect x="999.71" y="456.7" width="4.70" height="12.8" fill="#26a69a"/>
<line x1="1009.28" y1="426.7" x2="1009.28" y2="459.9" stroke="#ef5350" stroke-width="0.8"/>
<rect x="1006.93" y="456.2" width="4.70" height="1.2" fill="#ef5350"/>
<line x1="1016.49" y1="378.0" x2="1016.49" y2="459.9" stroke="#26a69a" stroke-width="0.8"/>
<rect x="1014.14" y="393.2" width="4.70" height="63.5" fill="#26a69a"/>
<line x1="1023.70" y1="350.2" x2="1023.70" y2="406.8" stroke="#26a69a" stroke-width="0.8"/>
<rect x="1021.35" y="384.9" width="4.70" height="9.8" fill="#26a69a"/>
<line x1="1030.92" y1="366.9" x2="1030.92" y2="417.3" stroke="#ef5350" stroke-width="0.8"/>
<rect x="1028.57" y="384.1" width="4.70" height="27.6" fill="#ef5350"/>
<line x1="1038.13" y1="361.2" x2="1038.13" y2="412.4" stroke="#26a69a" stroke-width="0.8"/>
<rect x="1035.78" y="385.8" width="4.70" height="25.9" fill="#26a69a"/>
<line x1="1045.34" y1="383.8" x2="1045.34" y2="403.3" stroke="#ef5350" stroke-width="0.8"/>
<rect x="1042.99" y="386.1" width="4.70" height="5.9" fill="#ef5350"/>
<line x1="1052.56" y1="384.6" x2="1052.56" y2="411.2" stroke="#ef5350" stroke-width="0.8"/>
<rect x="1050.21" y="392.1" width="4.70" height="8.0" fill="#ef5350"/>
<line x1="1059.77" y1="368.9" x2="1059.77" y2="406.3" stroke="#26a69a" stroke-width="0.8"/>
<rect x="1057.42" y="395.2" width="4.70" height="6.6" fill="#26a69a"/>
<line x1="1066.98" y1="346.7" x2="1066.98" y2="396.4" stroke="#26a69a" stroke-width="0.8"/>
<rect x="1064.63" y="364.0" width="4.70" height="31.7" fill="#26a69a"/>
<line x1="1074.20" y1="344.8" x2="1074.20" y2="423.5" stroke="#ef5350" stroke-width="0.8"/>
<rect x="1071.85" y="364.0" width="4.70" height="36.1" fill="#ef5350"/>
<line x1="1081.41" y1="387.1" x2="1081.41" y2="421.0" stroke="#26a69a" stroke-width="0.8"/>
<rect x="1079.06" y="393.0" width="4.70" height="9.6" fill="#26a69a"/>
<line x1="1088.62" y1="389.0" x2="1088.62" y2="414.4" stroke="#ef5350" stroke-width="0.8"/>
<rect x="1086.27" y="393.0" width="4.70" height="4.7" fill="#ef5350"/>
<line x1="1095.84" y1="394.5" x2="1095.84" y2="417.8" stroke="#ef5350" stroke-width="0.8"/>
<rect x="1093.49" y="398.4" width="4.70" height="4.7" fill="#ef5350"/>
</g>
<path d="M4.9,710.1 L6.6,709.7 L28.2,704.5 L42.7,701.3 L57.1,698.4 L71.5,694.5 L85.9,690.6 L100.4,685.6 L114.8,680.4 L122.0,674.5 L129.2,670.0 L136.4,666.1 L143.7,661.5 L150.9,657.2 L158.1,652.8 L165.3,646.5 L172.5,641.0 L179.7,635.8 L186.9,630.9 L194.2,625.9 L201.4,621.7 L231.1,599.5 L275.9,570.0 L307.9,552.0 L332.5,536.0 L364.4,516.8 L401.3,495.4 L430.8,480.2 L450.5,470.3 L467.7,462.2 L480.0,458.0 L504.6,449.6 L529.2,442.2 L553.8,436.1 L578.4,431.1 L603.0,427.4 L627.6,423.0 L652.2,416.5 L655.8,415.4 L663.0,413.1 L670.2,410.7 L677.5,407.9 L684.7,405.3 L691.9,402.8 L699.1,400.4 L706.3,398.2 L713.5,395.9 L720.7,393.7 L728.0,391.5 L735.2,389.5 L742.4,387.6 L749.6,385.4 L756.8,382.8 L764.0,380.5 L771.2,378.2 L778.4,375.7 L785.7,374.3 L792.9,372.3 L800.0,370.5 L809.1,368.4 L818.2,366.4 L827.3,364.8 L836.5,364.2 L842.8,366.0 L854.7,367.8 L863.8,369.4 L879.3,371.5 L891.2,375.5 L900.3,377.8 L913.9,380.6 L927.6,383.8 L940.0,386.5 L958.4,391.0 L983.0,396.9 L1007.6,401.8 L1032.2,402.6 L1060.0,406.3 L1097.0,408.2" fill="none" stroke="#2196f3" stroke-width="2.45" stroke-linejoin="round" stroke-linecap="butt"/>
<path d="M4.9,634.8 L6.6,634.1 L13.8,631.3 L21.0,628.7 L28.2,626.0 L35.5,623.4 L42.7,621.5 L49.9,619.8 L57.1,617.8 L64.3,613.7 L71.5,610.4 L78.7,607.5 L85.9,603.9 L93.2,600.0 L100.4,596.7 L107.6,594.8 L114.8,592.8 L122.0,585.0 L129.2,579.1 L136.4,574.2 L143.7,568.7 L150.9,564.1 L158.1,558.9 L165.3,551.1 L172.5,543.9 L179.7,536.7 L202.1,517.5 L229.2,497.4 L261.1,474.5 L288.2,456.1 L309.1,442.5 L331.2,422.4 L352.1,406.9 L370.6,393.4 L403.2,368.4 L417.8,357.5 L425.0,353.8 L432.2,349.3 L439.4,344.4 L446.6,340.6 L453.8,337.4 L461.1,333.8 L468.3,329.4 L475.5,325.8 L482.7,327.4 L489.9,327.6 L497.1,327.4 L504.3,328.7 L511.5,329.2 L518.8,331.2 L526.0,335.6 L533.2,340.0 L540.4,342.6 L547.6,344.9 L554.8,346.7 L562.0,350.3 L569.3,352.9 L576.5,355.0 L583.7,357.6 L590.9,361.8 L598.1,364.4 L605.3,367.1 L612.5,369.5 L619.7,372.0 L627.0,374.1 L634.2,376.2 L641.4,377.8 L648.6,379.1 L655.8,380.1 L663.0,380.4 L670.2,380.7 L677.5,382.1 L684.7,383.4 L691.9,384.6 L699.1,385.6 L706.3,386.4 L713.5,387.3 L720.7,388.1 L728.0,389.0 L735.2,389.7 L742.4,390.8 L749.6,392.0 L756.8,391.7 L764.0,392.3 L771.2,392.8 L778.4,393.5 L785.7,394.2 L792.9,394.9 L800.0,395.6 L818.2,398.3 L830.1,401.5 L841.0,404.3 L846.0,405.6 L862.0,409.6 L873.2,412.0 L886.0,413.1 L902.0,414.1 L916.4,416.3 L932.4,417.6 L945.2,417.7 L958.0,419.2 L974.0,421.6 L990.0,423.7 L1002.8,424.8 L1009.2,425.6 L1022.4,423.5 L1044.5,425.9 L1060.0,426.4 L1097.0,426.4" fill="none" stroke="#ff9800" stroke-width="2.45" stroke-linejoin="round" stroke-linecap="butt"/>
<g font-size="8.8" fill="#2e313a" stroke="#2e313a" stroke-width="0.15">
<line x1="1488.6" y1="49.0" x2="1491.1" y2="49.0" stroke="#e1e4ec" stroke-width="1"/>
<text x="1494.7" y="51.9" textLength="28.4" lengthAdjust="spacingAndGlyphs">0.57000</text>
<line x1="1488.6" y1="69.7" x2="1491.1" y2="69.7" stroke="#e1e4ec" stroke-width="1"/>
<text x="1494.7" y="72.5" textLength="28.4" lengthAdjust="spacingAndGlyphs">0.56000</text>
<line x1="1488.6" y1="90.4" x2="1491.1" y2="90.4" stroke="#e1e4ec" stroke-width="1"/>
<text x="1494.7" y="93.2" textLength="28.4" lengthAdjust="spacingAndGlyphs">0.55000</text>
<line x1="1488.6" y1="111.0" x2="1491.1" y2="111.0" stroke="#e1e4ec" stroke-width="1"/>
<text x="1494.7" y="113.9" textLength="28.4" lengthAdjust="spacingAndGlyphs">0.54000</text>
<line x1="1488.6" y1="131.7" x2="1491.1" y2="131.7" stroke="#e1e4ec" stroke-width="1"/>
<text x="1494.7" y="134.6" textLength="28.4" lengthAdjust="spacingAndGlyphs">0.53000</text>
<line x1="1488.6" y1="152.4" x2="1491.1" y2="152.4" stroke="#e1e4ec" stroke-width="1"/>
<text x="1494.7" y="155.2" textLength="28.4" lengthAdjust="spacingAndGlyphs">0.52000</text>
<line x1="1488.6" y1="173.1" x2="1491.1" y2="173.1" stroke="#e1e4ec" stroke-width="1"/>
<text x="1494.7" y="175.9" textLength="28.4" lengthAdjust="spacingAndGlyphs">0.51000</text>
<line x1="1488.6" y1="193.8" x2="1491.1" y2="193.8" stroke="#e1e4ec" stroke-width="1"/>
<text x="1494.7" y="196.6" textLength="28.4" lengthAdjust="spacingAndGlyphs">0.50000</text>
<line x1="1488.6" y1="214.4" x2="1491.1" y2="214.4" stroke="#e1e4ec" stroke-width="1"/>
<text x="1494.7" y="217.3" textLength="28.4" lengthAdjust="spacingAndGlyphs">0.49000</text>
<line x1="1488.6" y1="235.1" x2="1491.1" y2="235.1" stroke="#e1e4ec" stroke-width="1"/>
<text x="1494.7" y="238.0" textLength="28.4" lengthAdjust="spacingAndGlyphs">0.48000</text>
<line x1="1488.6" y1="255.8" x2="1491.1" y2="255.8" stroke="#e1e4ec" stroke-width="1"/>
<text x="1494.7" y="258.7" textLength="28.4" lengthAdjust="spacingAndGlyphs">0.47000</text>
<line x1="1488.6" y1="276.5" x2="1491.1" y2="276.5" stroke="#e1e4ec" stroke-width="1"/>
<text x="1494.7" y="279.3" textLength="28.4" lengthAdjust="spacingAndGlyphs">0.46000</text>
<line x1="1488.6" y1="297.2" x2="1491.1" y2="297.2" stroke="#e1e4ec" stroke-width="1"/>
<text x="1494.7" y="300.0" textLength="28.4" lengthAdjust="spacingAndGlyphs">0.45000</text>
<line x1="1488.6" y1="317.8" x2="1491.1" y2="317.8" stroke="#e1e4ec" stroke-width="1"/>
<text x="1494.7" y="320.7" textLength="28.4" lengthAdjust="spacingAndGlyphs">0.44000</text>
<line x1="1488.6" y1="338.5" x2="1491.1" y2="338.5" stroke="#e1e4ec" stroke-width="1"/>
<text x="1494.7" y="341.4" textLength="28.4" lengthAdjust="spacingAndGlyphs">0.43000</text>
<line x1="1488.6" y1="359.2" x2="1491.1" y2="359.2" stroke="#e1e4ec" stroke-width="1"/>
<text x="1494.7" y="362.1" textLength="28.4" lengthAdjust="spacingAndGlyphs">0.42000</text>
<line x1="1488.6" y1="379.9" x2="1491.1" y2="379.9" stroke="#e1e4ec" stroke-width="1"/>
<text x="1494.7" y="382.7" textLength="28.4" lengthAdjust="spacingAndGlyphs">0.41000</text>
<line x1="1488.6" y1="400.6" x2="1491.1" y2="400.6" stroke="#e1e4ec" stroke-width="1"/>
<line x1="1488.6" y1="421.2" x2="1491.1" y2="421.2" stroke="#e1e4ec" stroke-width="1"/>
<text x="1494.7" y="424.1" textLength="28.4" lengthAdjust="spacingAndGlyphs">0.39000</text>
<line x1="1488.6" y1="441.9" x2="1491.1" y2="441.9" stroke="#e1e4ec" stroke-width="1"/>
<text x="1494.7" y="444.8" textLength="28.4" lengthAdjust="spacingAndGlyphs">0.38000</text>
<line x1="1488.6" y1="462.6" x2="1491.1" y2="462.6" stroke="#e1e4ec" stroke-width="1"/>
<text x="1494.7" y="465.5" textLength="28.4" lengthAdjust="spacingAndGlyphs">0.37000</text>
<line x1="1488.6" y1="483.3" x2="1491.1" y2="483.3" stroke="#e1e4ec" stroke-width="1"/>
<text x="1494.7" y="486.1" textLength="28.4" lengthAdjust="spacingAndGlyphs">0.36000</text>
<line x1="1488.6" y1="504.0" x2="1491.1" y2="504.0" stroke="#e1e4ec" stroke-width="1"/>
<text x="1494.7" y="506.8" textLength="28.4" lengthAdjust="spacingAndGlyphs">0.35000</text>
<line x1="1488.6" y1="524.6" x2="1491.1" y2="524.6" stroke="#e1e4ec" stroke-width="1"/>
<text x="1494.7" y="527.5" textLength="28.4" lengthAdjust="spacingAndGlyphs">0.34000</text>
<line x1="1488.6" y1="545.3" x2="1491.1" y2="545.3" stroke="#e1e4ec" stroke-width="1"/>
<text x="1494.7" y="548.2" textLength="28.4" lengthAdjust="spacingAndGlyphs">0.33000</text>
<line x1="1488.6" y1="566.0" x2="1491.1" y2="566.0" stroke="#e1e4ec" stroke-width="1"/>
<text x="1494.7" y="568.9" textLength="28.4" lengthAdjust="spacingAndGlyphs">0.32000</text>
<line x1="1488.6" y1="586.7" x2="1491.1" y2="586.7" stroke="#e1e4ec" stroke-width="1"/>
<text x="1494.7" y="589.5" textLength="28.4" lengthAdjust="spacingAndGlyphs">0.31000</text>
<line x1="1488.6" y1="607.4" x2="1491.1" y2="607.4" stroke="#e1e4ec" stroke-width="1"/>
<text x="1494.7" y="610.2" textLength="28.4" lengthAdjust="spacingAndGlyphs">0.30000</text>
<line x1="1488.6" y1="628.0" x2="1491.1" y2="628.0" stroke="#e1e4ec" stroke-width="1"/>
<text x="1494.7" y="630.9" textLength="28.4" lengthAdjust="spacingAndGlyphs">0.29000</text>
<line x1="1488.6" y1="648.7" x2="1491.1" y2="648.7" stroke="#e1e4ec" stroke-width="1"/>
<text x="1494.7" y="651.6" textLength="28.4" lengthAdjust="spacingAndGlyphs">0.28000</text>
<line x1="1488.6" y1="669.4" x2="1491.1" y2="669.4" stroke="#e1e4ec" stroke-width="1"/>
<text x="1494.7" y="672.2" textLength="28.4" lengthAdjust="spacingAndGlyphs">0.27000</text>
<line x1="1488.6" y1="690.1" x2="1491.1" y2="690.1" stroke="#e1e4ec" stroke-width="1"/>
<text x="1494.7" y="692.9" textLength="28.4" lengthAdjust="spacingAndGlyphs">0.26000</text>
<line x1="1488.6" y1="710.8" x2="1491.1" y2="710.8" stroke="#e1e4ec" stroke-width="1"/>
<text x="1494.7" y="713.6" textLength="28.4" lengthAdjust="spacingAndGlyphs">0.25000</text>
<line x1="1488.6" y1="731.4" x2="1491.1" y2="731.4" stroke="#e1e4ec" stroke-width="1"/>
<text x="1494.7" y="734.3" textLength="28.4" lengthAdjust="spacingAndGlyphs">0.24000</text>
<line x1="1488.6" y1="752.1" x2="1491.1" y2="752.1" stroke="#e1e4ec" stroke-width="1"/>
<text x="1494.7" y="755.0" textLength="28.4" lengthAdjust="spacingAndGlyphs">0.23000</text>
</g>
<rect x="1497.6" y="34.3" width="23.8" height="11.3" rx="2.2" ry="2.2" fill="#fff" stroke="#dcdcde" stroke-width="0.8"/>
<text x="1500.0" y="42.9" font-size="9.4" fill="#2e313a" textLength="18.8" lengthAdjust="spacingAndGlyphs">USDT</text>
<rect x="1439.1" y="397" width="48.3" height="11.4" rx="1.5" fill="#ef5350"/>
<text x="1442.6" y="405.6" font-size="8.8" fill="#fff" stroke="#fff" stroke-width="0.25" textLength="40.4" lengthAdjust="spacingAndGlyphs">MATICUSDT</text>
<rect x="1488" y="397" width="40" height="20.9" rx="1" fill="#ef5350"/>
<line x1="1488" y1="402.7" x2="1491" y2="402.7" stroke="#fff" stroke-width="0.8"/>
<text x="1494.7" y="405.8" font-size="8.8" fill="#fff" stroke="#fff" stroke-width="0.15" textLength="28.4" lengthAdjust="spacingAndGlyphs">0.39890</text>
<text x="1494.7" y="415.4" font-size="8.8" fill="#fff" fill-opacity="0.85" textLength="20" lengthAdjust="spacingAndGlyphs">34:39</text>
<g font-size="8.8" fill="#2e313a" stroke="#2e313a" stroke-width="0.15" text-anchor="middle">
<line x1="57.1" y1="769.4" x2="57.1" y2="771.9" stroke="#e1e4ec" stroke-width="1"/>
<text x="57.1" y="781.45" textLength="19.4" lengthAdjust="spacingAndGlyphs">12:00</text>
<line x1="143.7" y1="769.4" x2="143.7" y2="771.9" stroke="#e1e4ec" stroke-width="1"/>
<text x="143.7" y="781.45" textLength="8.0" lengthAdjust="spacingAndGlyphs">12</text>
<line x1="230.2" y1="769.4" x2="230.2" y2="771.9" stroke="#e1e4ec" stroke-width="1"/>
<text x="230.2" y="781.45" textLength="19.4" lengthAdjust="spacingAndGlyphs">12:00</text>
<line x1="316.8" y1="769.4" x2="316.8" y2="771.9" stroke="#e1e4ec" stroke-width="1"/>
<text x="316.8" y="781.45" textLength="8.0" lengthAdjust="spacingAndGlyphs">13</text>
<line x1="403.3" y1="769.4" x2="403.3" y2="771.9" stroke="#e1e4ec" stroke-width="1"/>
<text x="403.3" y="781.45" textLength="19.4" lengthAdjust="spacingAndGlyphs">12:00</text>
<line x1="489.9" y1="769.4" x2="489.9" y2="771.9" stroke="#e1e4ec" stroke-width="1"/>
<text x="489.9" y="781.45" textLength="8.0" lengthAdjust="spacingAndGlyphs">14</text>
<line x1="576.5" y1="769.4" x2="576.5" y2="771.9" stroke="#e1e4ec" stroke-width="1"/>
<text x="576.5" y="781.45" textLength="19.4" lengthAdjust="spacingAndGlyphs">12:00</text>
<line x1="663.0" y1="769.4" x2="663.0" y2="771.9" stroke="#e1e4ec" stroke-width="1"/>
<text x="663.0" y="781.45" textLength="8.0" lengthAdjust="spacingAndGlyphs">15</text>
<line x1="749.6" y1="769.4" x2="749.6" y2="771.9" stroke="#e1e4ec" stroke-width="1"/>
<text x="749.6" y="781.45" textLength="19.4" lengthAdjust="spacingAndGlyphs">12:00</text>
<line x1="836.2" y1="769.4" x2="836.2" y2="771.9" stroke="#e1e4ec" stroke-width="1"/>
<text x="836.2" y="781.45" textLength="8.0" lengthAdjust="spacingAndGlyphs">16</text>
<line x1="922.7" y1="769.4" x2="922.7" y2="771.9" stroke="#e1e4ec" stroke-width="1"/>
<text x="922.7" y="781.45" textLength="19.4" lengthAdjust="spacingAndGlyphs">12:00</text>
<line x1="1009.3" y1="769.4" x2="1009.3" y2="771.9" stroke="#e1e4ec" stroke-width="1"/>
<text x="1009.3" y="781.45" textLength="8.0" lengthAdjust="spacingAndGlyphs">17</text>
<line x1="1095.8" y1="769.4" x2="1095.8" y2="771.9" stroke="#e1e4ec" stroke-width="1"/>
<text x="1095.8" y="781.45" textLength="19.4" lengthAdjust="spacingAndGlyphs">12:00</text>
<line x1="1182.4" y1="769.4" x2="1182.4" y2="771.9" stroke="#e1e4ec" stroke-width="1"/>
<text x="1182.4" y="781.45" textLength="8.0" lengthAdjust="spacingAndGlyphs">18</text>
<line x1="1269.0" y1="769.4" x2="1269.0" y2="771.9" stroke="#e1e4ec" stroke-width="1"/>
<text x="1269.0" y="781.45" textLength="19.4" lengthAdjust="spacingAndGlyphs">12:00</text>
<line x1="1355.5" y1="769.4" x2="1355.5" y2="771.9" stroke="#e1e4ec" stroke-width="1"/>
<text x="1355.5" y="781.45" textLength="8.0" lengthAdjust="spacingAndGlyphs">19</text>
<line x1="1442.1" y1="769.4" x2="1442.1" y2="771.9" stroke="#e1e4ec" stroke-width="1"/>
<text x="1442.1" y="781.45" textLength="19.4" lengthAdjust="spacingAndGlyphs">12:00</text>
</g>
<g font-size="9" fill="#2a2d34" stroke="#2a2d34" stroke-width="0.2">
<text x="4.2" y="11.4" font-size="8.8" font-weight="bold" fill="#1c1e24" stroke="none" textLength="60.3" lengthAdjust="spacingAndGlyphs">CryptoFXStreet</text>
<text x="67.7" y="11.4" font-size="8.8" fill="#2f3238" textLength="234.3" lengthAdjust="spacingAndGlyphs">published on TradingView.com, March 17, 2021 12:25:22 UTC</text>
<text x="4.2" y="22.8" font-weight="bold" fill="#1c1e24" stroke="none" textLength="99.2" lengthAdjust="spacingAndGlyphs">BINANCE:MATICUSDT, 60</text>
<text x="107.3" y="22.8" textLength="30.7" lengthAdjust="spacingAndGlyphs">0.39890</text>
<path d="M140.1,22.8 L147.1,22.8 L143.6,16.6 Z" fill="#26a69a"/>
<text x="149.7" y="22.8" textLength="71.7" lengthAdjust="spacingAndGlyphs">+0.02615 (+7.02%)</text>
<text x="224.5" y="22.8" font-weight="bold" fill="#1c1e24" stroke="none" textLength="8.5" lengthAdjust="spacingAndGlyphs">O:</text>
<text x="233.6" y="22.8" fill="#26a69a" stroke="#26a69a" textLength="30.7" lengthAdjust="spacingAndGlyphs">0.40100</text>
<text x="268.2" y="22.8" font-weight="bold" fill="#1c1e24" stroke="none" textLength="8.6" lengthAdjust="spacingAndGlyphs">H:</text>
<text x="277.3" y="22.8" fill="#26a69a" stroke="#26a69a" textLength="30.7" lengthAdjust="spacingAndGlyphs">0.40279</text>
<text x="311.5" y="22.8" font-weight="bold" fill="#1c1e24" stroke="none" textLength="6.7" lengthAdjust="spacingAndGlyphs">L:</text>
<text x="318.8" y="22.8" fill="#26a69a" stroke="#26a69a" textLength="30.7" lengthAdjust="spacingAndGlyphs">0.39184</text>
<text x="352.6" y="22.8" font-weight="bold" fill="#1c1e24" stroke="none" textLength="8.1" lengthAdjust="spacingAndGlyphs">C:</text>
<text x="361.2" y="22.8" fill="#26a69a" stroke="#26a69a" textLength="30.7" lengthAdjust="spacingAndGlyphs">0.39890</text>
<text x="10.5" y="43.8" font-weight="bold" fill="#1c1e24" stroke="none" textLength="161.5" lengthAdjust="spacingAndGlyphs">MATIC Network / TetherUS, 1h, BINANCE</text>
<text x="10.5" y="55.6" textLength="13.2" lengthAdjust="spacingAndGlyphs">MA</text>
<text x="10.5" y="66.9" textLength="13.2" lengthAdjust="spacingAndGlyphs">MA</text>
<text x="10.3" y="78.7" textLength="12.0" lengthAdjust="spacingAndGlyphs">Vol</text>
</g>
<g id="tvlogo">
<path d="M6.6,805.8 C4.9,805.8 3.9,804.4 3.9,802.8 C3.9,801.0 5.2,799.6 7.0,799.4 C7.2,796.9 9.0,794.9 11.5,794.9 C13.4,794.9 14.8,796.0 15.5,797.6 C16.0,797.4 16.6,797.3 17.2,797.4 C18.4,797.5 19.2,798.2 19.6,799.1 L21.6,801.8 C22.0,802.4 22.1,803.0 22.0,803.6 C21.8,804.9 20.8,805.8 19.4,805.8 Z" fill="#2196f3"/>
<path d="M4.2,803.9 L10.5,798.3 L14.9,802.9 L19.3,798.4" fill="none" stroke="#fff" stroke-width="0.95" stroke-linejoin="round" stroke-opacity="0.92"/>
<circle cx="14.9" cy="802.9" r="1.05" fill="#fff"/>
<text x="23.3" y="803.9" font-size="9" fill="#2f3238" textLength="47.8" lengthAdjust="spacingAndGlyphs">TradingView</text>
</g>
</svg>
</body></html>
